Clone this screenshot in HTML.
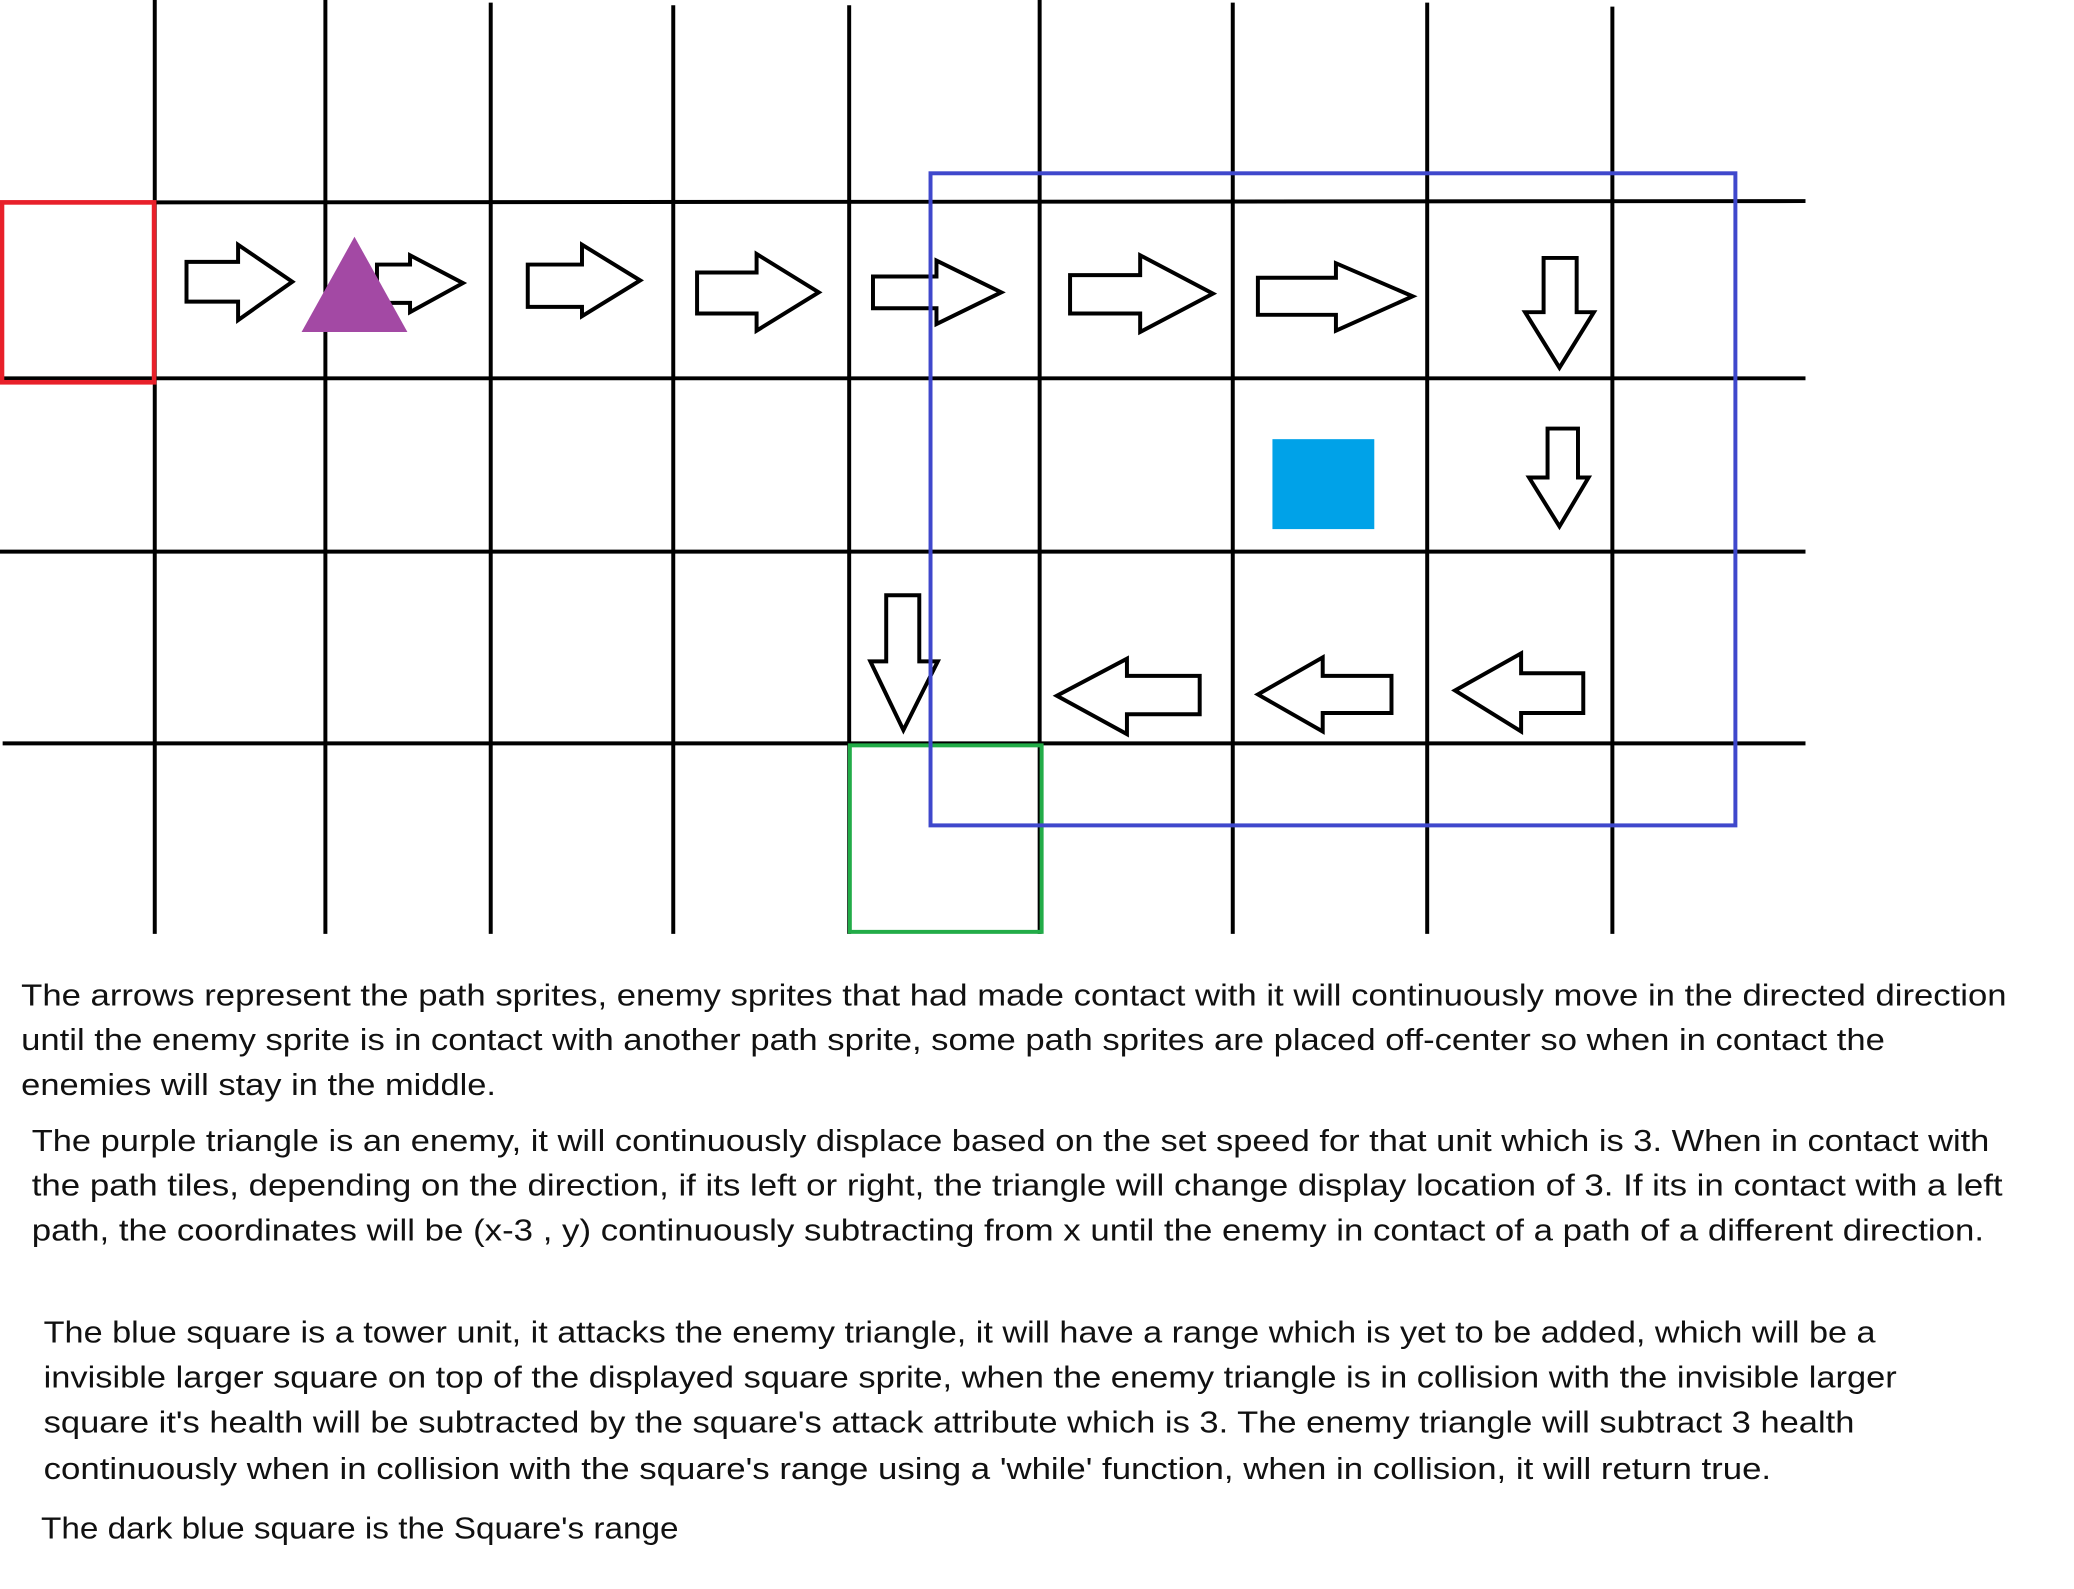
<!DOCTYPE html>
<html><head><meta charset="utf-8"><style>html,body{margin:0;padding:0;background:#fff}svg{display:block}</style></head>
<body>
<svg width="2074" height="1589" viewBox="0 0 1568 1201.3" xmlns="http://www.w3.org/2000/svg">
<rect width="1568" height="1201.3" fill="#fff"/>
<g stroke="#000" stroke-width="3" fill="none">
<line x1="117" y1="0" x2="117" y2="706"/>
<line x1="246" y1="0" x2="246" y2="706"/>
<line x1="371" y1="2" x2="371" y2="706"/>
<line x1="509" y1="4" x2="509" y2="706"/>
<line x1="642" y1="4" x2="642" y2="706"/>
<line x1="786" y1="0" x2="786" y2="706"/>
<line x1="932" y1="2" x2="932" y2="706"/>
<line x1="1079" y1="2" x2="1079" y2="706"/>
<line x1="1219" y1="5" x2="1219" y2="706"/>
<line x1="117" y1="153" x2="1365" y2="152"/>
<line x1="0" y1="286" x2="1365" y2="286"/>
<line x1="0" y1="417" x2="1365" y2="417"/>
<line x1="2" y1="562" x2="1365" y2="562"/>
</g>
<rect x="1.5" y="153" width="115" height="136" fill="none" stroke="#e8202a" stroke-width="3.5"/>
<rect x="642.5" y="563.5" width="145" height="141" fill="none" stroke="#22ac48" stroke-width="3"/>
<rect x="962" y="332" width="77" height="68" fill="#00a2e8"/>
<g stroke="#000" stroke-width="3" fill="#fff" stroke-linejoin="miter">
<polygon points="141,198 180,198 180,185 221,213 180,242 180,228 141,228"/>
<polygon points="285,200 310,200 310,193 350,214 310,236 310,229 285,229"/>
<polygon points="399,200 440,200 440,185 484,212 440,239 440,232 399,232"/>
<polygon points="527,206 572,206 572,192 619,221 572,250 572,237 527,237"/>
<polygon points="660,209 708,209 708,197 757,221 708,245 708,233 660,233"/>
<polygon points="809,208 862,208 862,193 917,222 862,251 862,237 809,237"/>
<polygon points="951,210 1010,210 1010,199 1068,224 1010,250 1010,238 951,238"/>
<polygon points="1167,195 1192,195 1192,236 1205,236 1179,278 1153,236 1167,236"/>
<polygon points="1170,324 1193,324 1193,361 1201,361 1179,398 1156,361 1170,361"/>
<polygon points="670,450 695,450 695,500 709,500 683,552 658,500 670,500"/>
<polygon points="799,526 852,498 852,511 907,511 907,540 852,540 852,555"/>
<polygon points="951,525 1000,497 1000,511 1052,511 1052,539 1000,539 1000,553"/>
<polygon points="1100,522 1150,494 1150,509 1197,509 1197,539 1150,539 1150,553"/>
</g>
<polygon points="268,179 308,251 228,251" fill="#a349a4"/>
<rect x="703.5" y="131" width="608.5" height="493" fill="none" stroke="#3f48cc" stroke-width="3"/>
<g font-family="Liberation Sans, sans-serif" font-size="23" fill="#111">
<text x="16" y="760" textLength="1501" lengthAdjust="spacingAndGlyphs">The arrows represent the path sprites, enemy sprites that had made contact with it will continuously move in the directed direction</text>
<text x="16" y="794" textLength="1409" lengthAdjust="spacingAndGlyphs">until the enemy sprite is in contact with another path sprite, some path sprites are placed off-center so when in contact the</text>
<text x="16" y="828" textLength="359" lengthAdjust="spacingAndGlyphs">enemies will stay in the middle.</text>
<text x="24" y="870" textLength="1480" lengthAdjust="spacingAndGlyphs">The purple triangle is an enemy, it will continuously displace based on the set speed for that unit which is 3. When in contact with</text>
<text x="24" y="904" textLength="1490" lengthAdjust="spacingAndGlyphs">the path tiles, depending on the direction, if its left or right, the triangle will change display location of 3. If its in contact with a left</text>
<text x="24" y="938" textLength="1476" lengthAdjust="spacingAndGlyphs">path, the coordinates will be (x-3 , y) continuously subtracting from x  until the enemy in contact of a path of a different direction.</text>
<text x="33" y="1015" textLength="1385" lengthAdjust="spacingAndGlyphs">The blue square is a tower unit, it attacks the enemy triangle, it will have a range which is yet to be added, which will be a</text>
<text x="33" y="1049" textLength="1401" lengthAdjust="spacingAndGlyphs">invisible larger square on top of the displayed square sprite, when the enemy triangle is in collision with the invisible larger</text>
<text x="33" y="1083" textLength="1369" lengthAdjust="spacingAndGlyphs">square it's health will be subtracted by the square's attack attribute which is 3. The enemy triangle will subtract 3 health</text>
<text x="33" y="1118" textLength="1306" lengthAdjust="spacingAndGlyphs">continuously when in collision with the square's range using a 'while' function, when in collision, it will return true.</text>
<text x="31" y="1163" textLength="482" lengthAdjust="spacingAndGlyphs">The dark blue square is the Square's range</text>
</g>
</svg>
</body></html>
